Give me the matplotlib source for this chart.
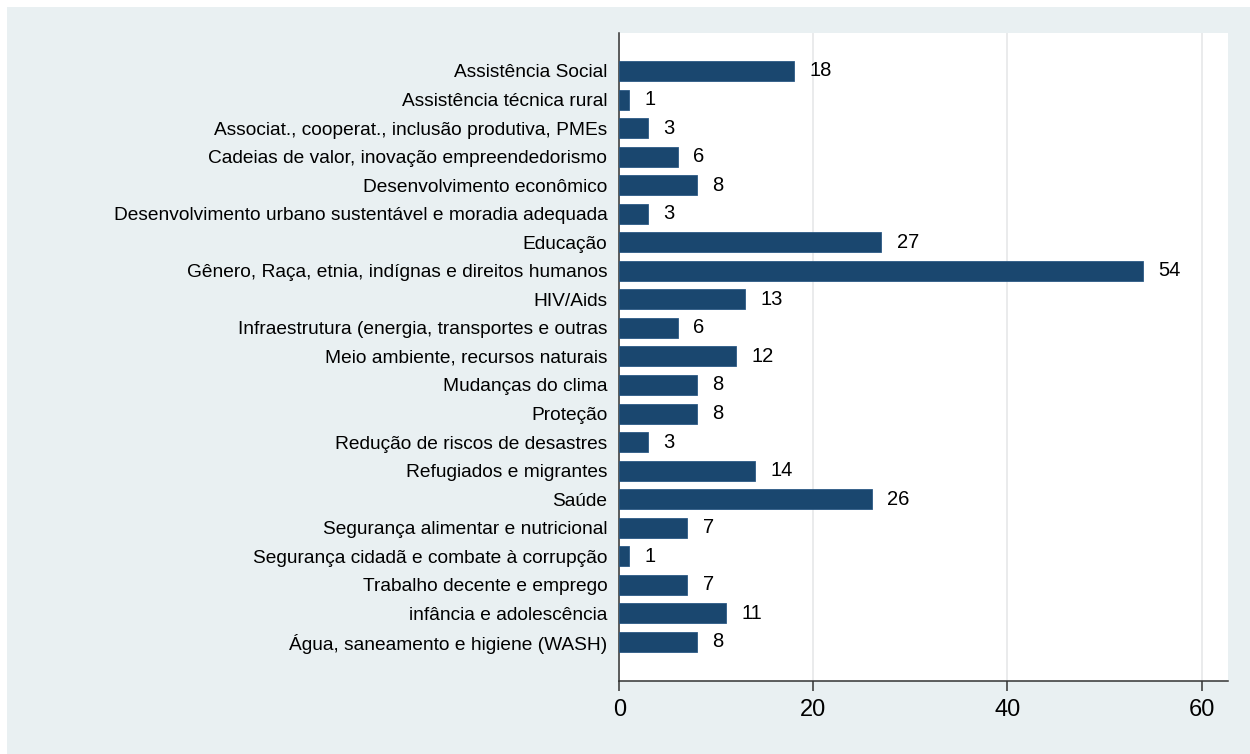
import matplotlib
matplotlib.use("Agg")
import matplotlib.pyplot as plt
from matplotlib.patches import Rectangle

# categories and counts, top to bottom as in the chart
categories = [
    "Assistência Social",
    "Assistência técnica rural",
    "Associat., cooperat., inclusão produtiva, PMEs",
    "Cadeias de valor, inovação empreendedorismo",
    "Desenvolvimento econômico",
    "Desenvolvimento urbano sustentável e moradia adequada",
    "Educação",
    "Gênero, Raça, etnia, indígnas e direitos humanos",
    "HIV/Aids",
    "Infraestrutura (energia, transportes e outras",
    "Meio ambiente, recursos naturais",
    "Mudanças do clima",
    "Proteção",
    "Redução de riscos de desastres",
    "Refugiados e migrantes",
    "Saúde",
    "Segurança alimentar e nutricional",
    "Segurança cidadã e combate à corrupção",
    "Trabalho decente e emprego",
    "infância e adolescência",
    "Água, saneamento e higiene (WASH)",
]
counts = [18, 1, 3, 6, 8, 3, 27, 54, 13, 6, 12, 8, 8, 3, 14, 26, 7, 1, 7, 11, 8]
x_ticks = [0, 20, 40, 60]

plt.rcParams['font.family'] = ['Liberation Sans', 'DejaVu Sans']

bg = '#e9f0f2'
navy = '#1a476f'

fig = plt.figure(figsize=(12.5, 7.54), dpi=100)
fig.patch.set_facecolor('white')
# light bluish background panel, leaving a thin white strip top and left
fig.patches.append(Rectangle((7 / 1250, 0), 1 - 7 / 1250, 1 - 7 / 754,
                             transform=fig.transFigure, facecolor=bg,
                             edgecolor='none', zorder=-10))

ax = fig.add_axes([619.3 / 1250, 73 / 754, 608.4 / 1250, 648 / 754])
ax.set_facecolor('white')

pos = list(range(len(categories)))
ax.barh(pos, counts, height=0.70, color=navy, edgecolor='#2c5a85',
        linewidth=0.6, zorder=3)

for p, v in zip(pos, counts):
    ax.annotate(str(v), (v, p), xytext=(11, 0), textcoords='offset points',
                va='center', ha='left', fontsize=14.5, color='black')

ax.set_yticks(pos)
ax.set_yticklabels(categories, fontsize=13.8)
ax.set_ylim(21.37, -1.33)
ax.set_xlim(0, 62.7)
ax.set_xticks(x_ticks)
ax.set_xticklabels([str(t) for t in x_ticks], fontsize=17)

ax.tick_params(axis='y', length=0, pad=8.5)
ax.tick_params(axis='x', length=7.2, width=1.1, pad=6, color='#333333')

ax.xaxis.grid(True, color='#e6e8e9', linewidth=1.2, zorder=0)
ax.set_axisbelow(True)

for s in ['top', 'right']:
    ax.spines[s].set_visible(False)
for s in ['left', 'bottom']:
    ax.spines[s].set_color('#333333')
    ax.spines[s].set_linewidth(1.1)

fig.savefig('out.png', dpi=100, facecolor=fig.get_facecolor())
